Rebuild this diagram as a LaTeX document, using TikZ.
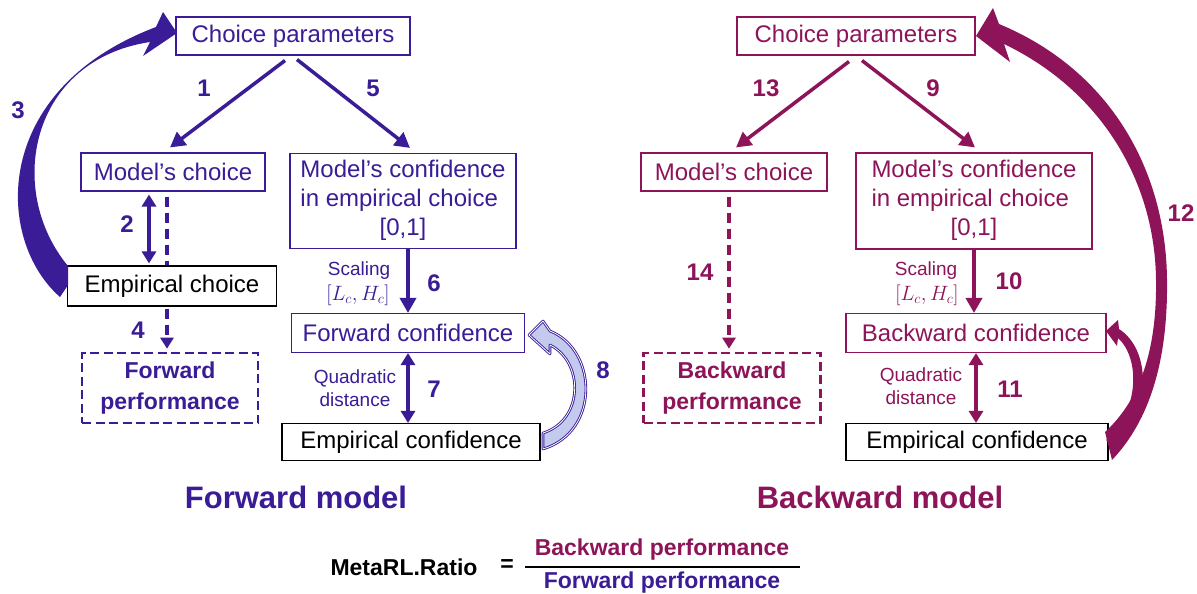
\documentclass[tikz,border=0pt]{standalone}
\usepackage{fontspec}
\setmainfont{Liberation Sans}
\usetikzlibrary{arrows.meta,calc}
\definecolor{fwd}{HTML}{3A1C96}
\definecolor{bwd}{HTML}{8E1459}
\definecolor{fwdlight}{HTML}{C3CAEE}
\begin{document}
\begin{tikzpicture}[x=1pt,y=-1pt,
  box/.style={draw, line width=1.1pt, inner sep=0pt, fill=white, font=\fontsize{24}{29}\selectfont, align=center},
  fbox/.style={box, draw=fwd, text=fwd},
  bbox/.style={box, draw=bwd, text=bwd},
  kbox/.style={box, draw=black, text=black},
  perfbox/.style={draw, line width=2.6pt, dash pattern=on 9pt off 4.5pt, inner sep=0pt, fill=white, font=\fontsize{23}{31}\selectfont\bfseries, align=center},
  num/.style={font=\fontsize{24}{28}\selectfont\bfseries, inner sep=0pt},
  lab/.style={font=\fontsize{19}{22}\selectfont, inner sep=0pt},
  mlab/.style={font=\fontsize{21}{24}\selectfont, inner sep=0pt},
  title/.style={font=\fontsize{31}{36}\selectfont\bfseries, inner sep=0pt},
  arr/.style={line width=3.5pt, -{Triangle[length=15pt,width=16pt]}},
  darr/.style={line width=3.5pt, {Triangle[length=12pt,width=14pt]}-{Triangle[length=12pt,width=14pt]}},
  dasharr/.style={line width=3.5pt, dash pattern=on 10pt off 6pt, -{Triangle[length=11pt,width=13pt]}},
]
\useasboundingbox (0,0) rectangle (1197,594);
\fill[white] (0,0) rectangle (1197,594);

% ---------------- Forward (left) ----------------
\node[fbox, minimum width=234pt, minimum height=38pt] (cpL) at (293,36) {Choice parameters};
\node[fbox, minimum width=184pt, minimum height=38pt] (mcL) at (173,172) {Model’s choice};
\node[fbox, minimum width=226pt, minimum height=95pt] (mconfL) at (403,201)
  {\begin{tabular}{@{}l@{}}Model’s confidence\\in empirical choice\\\multicolumn{1}{@{}c@{}}{[0,1]}\end{tabular}};
\node[perfbox, draw=fwd, text=fwd, minimum width=176pt, minimum height=70pt] (fpL) at (170,388) {Forward\\performance};
\node[fbox, minimum width=233pt, minimum height=39pt] (fcL) at (408,333) {Forward confidence};
\node[kbox, minimum width=258pt, minimum height=37pt] (ecfL) at (411,442) {Empirical confidence};

\draw[dasharr, fwd] ([xshift=-6pt,yshift=-5pt]mcL.south) -- ([xshift=-3pt,yshift=3pt]fpL.north);
\node[kbox, minimum width=209pt, minimum height=40pt] (ecL) at (172,286) {Empirical choice};

\draw[arr, fwd] ([xshift=-8pt,yshift=-5pt]cpL.south) -- ([xshift=-3pt,yshift=5pt]mcL.north);
\draw[arr, fwd] ([xshift=4pt,yshift=-4pt]cpL.south) -- ([xshift=7pt,yshift=5pt]mconfL.north);
\draw[darr, fwd] ([xshift=-24pt,yshift=-3pt]mcL.south) -- ([xshift=-23pt,yshift=2pt]ecL.north);
\draw[arr, fwd] ([xshift=5pt]mconfL.south) -- (fcL.north);
\draw[darr, fwd] (fcL.south) -- (fcL.south |- ecfL.north);

% arrow 3
\fill[fwd] (60,297) .. controls (-5,240) and (-10,90) .. (156,27) -- (163,12) -- (177,33) -- (143,56) -- (150,42)
  .. controls (30,60) and (5,190) .. (68,266) -- (68,285) -- cycle;
% arrow 8
\filldraw[fill=fwdlight, draw=fwd, double=white, double distance=0.8pt, line width=0.9pt, line join=round]
  (543,449) .. controls (600,432) and (598,350) .. (550,331) -- (543,321) -- (529,335) -- (550,354) -- (550,345)
  .. controls (584,362) and (584,420) .. (543,433) -- cycle;

\node[num, text=fwd] (n1) at (204,88) {1};
\node[num, text=fwd] (n5) at (373,88) {5};
\node[num, text=fwd] (n3) at (18,110) {3};
\node[num, text=fwd] (n2) at (127,224) {2};
\node[num, text=fwd] (n4) at (138,330) {4};
\node[num, text=fwd] (n6) at (434,283) {6};
\node[num, text=fwd] (n7) at (434,389) {7};
\node[num, text=fwd] (n8) at (603,370) {8};
\node[lab, text=fwd] (scL) at (359,271) {Scaling};
\node[mlab, text=fwd] (lhL) at (358,295) {$[L_c,H_c]$};
\node[lab, text=fwd] (qL) at (355,378) {Quadratic};
\node[lab, text=fwd] (dL) at (355,400) {distance};
\node[title, text=fwd] (tL) at (296,497) {Forward model};

% ---------------- Backward (right) ----------------
\node[bbox, minimum width=238pt, minimum height=38pt] (cpR) at (856,36) {Choice parameters};
\node[bbox, minimum width=186pt, minimum height=38pt] (mcR) at (734,172) {Model’s choice};
\node[bbox, minimum width=236pt, minimum height=96pt] (mconfR) at (974,201)
  {\begin{tabular}{@{}l@{}}Model’s confidence\\in empirical choice\\\multicolumn{1}{@{}c@{}}{[0,1]}\end{tabular}};
\node[perfbox, draw=bwd, text=bwd, minimum width=177pt, minimum height=70pt] (bpR) at (732,388) {Backward\\performance};
\node[bbox, minimum width=260pt, minimum height=39pt] (bcR) at (976,333) {Backward confidence};
\node[kbox, minimum width=262pt, minimum height=37pt] (ecfR) at (977,442) {Empirical confidence};

\draw[dasharr, bwd] ([xshift=-5pt,yshift=-5pt]mcR.south) -- ([xshift=-3pt,yshift=3pt]bpR.north);
\draw[arr, bwd] ([xshift=-7pt,yshift=-6pt]cpR.south) -- ([xshift=2pt,yshift=5pt]mcR.north);
\draw[arr, bwd] ([xshift=6pt,yshift=-5pt]cpR.south) -- ([xshift=1pt,yshift=5pt]mconfR.north);
\draw[arr, bwd] (mconfR.south) -- (mconfR.south |- bcR.north);
\draw[darr, bwd] (bcR.south) -- (bcR.south |- ecfR.north);

% arrow 12
\fill[bwd] (1112,460) .. controls (1150,420) and (1168,360) .. (1167,280)
  .. controls (1166,170) and (1110,70) .. (999,24) -- (993,8) -- (976,36) -- (1010,62) -- (1004,44)
  .. controls (1100,90) and (1155,180) .. (1156,280) .. controls (1157,350) and (1140,400) .. (1105,432) -- cycle;
% small arrow to backward confidence
\fill[bwd] (1112,446) .. controls (1152,415) and (1152,350) .. (1119,329) -- (1118,320) -- (1106,331) -- (1117,346) -- (1118,338)
  .. controls (1140,358) and (1140,410) .. (1106,440) -- cycle;

\node[num, text=bwd] (n13) at (766,88) {13};
\node[num, text=bwd] (n9) at (933,88) {9};
\node[num, text=bwd] (n14) at (700,272) {14};
\node[num, text=bwd] (n10) at (1009,281) {10};
\node[num, text=bwd] (n11) at (1010,389) {11};
\node[num, text=bwd] (n12) at (1181,213) {12};
\node[lab, text=bwd] (scR) at (926,271) {Scaling};
\node[mlab, text=bwd] (lhR) at (927,295) {$[L_c,H_c]$};
\node[lab, text=bwd] (qR) at (921,376) {Quadratic};
\node[lab, text=bwd] (dR) at (921,398) {distance};
\node[title, text=bwd] (tR) at (880,497) {Backward model};

% ---------------- Formula ----------------
\node[num, font=\fontsize{23}{28}\selectfont\bfseries] (ratio) at (404,567) {MetaRL.Ratio};
\node[num, font=\fontsize{23}{28}\selectfont\bfseries] (eq) at (507,566) {=};
\node[num, font=\fontsize{23}{28}\selectfont\bfseries, text=bwd] (numr) at (662,550) {Backward performance};
\node[num, font=\fontsize{23}{28}\selectfont\bfseries, text=fwd] (denr) at (662,583) {Forward performance};
\draw[line width=1.6pt] (525,567) -- (800,567);
\end{tikzpicture}
\end{document}
